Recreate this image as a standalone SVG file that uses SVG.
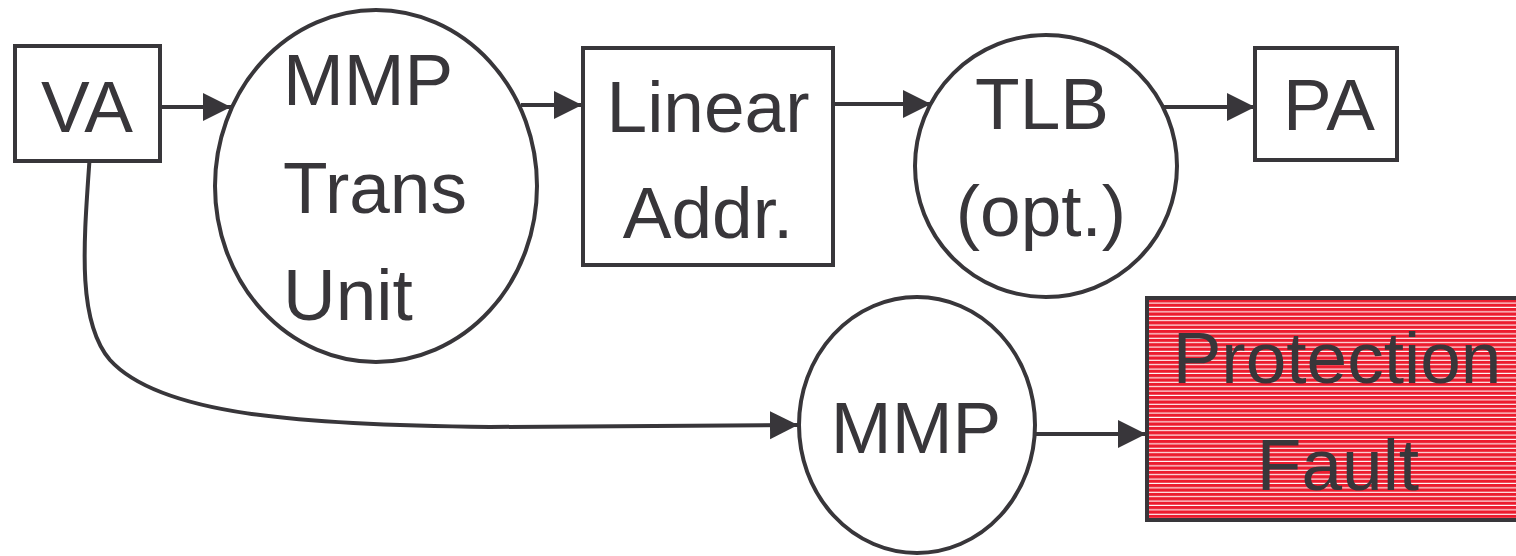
<svg xmlns="http://www.w3.org/2000/svg" width="1516" height="556" viewBox="0 0 1516 556">
  <style>
    .shape { fill: #ffffff; stroke: #38363a; stroke-width: 4; }
    .label { font-family: "Liberation Sans", Arial, sans-serif; font-size: 73px; fill: #38363a; }
    .mid { text-anchor: middle; }
    .edge { fill: none; stroke: #38363a; stroke-width: 4; }
  </style>
  <defs>
    <marker id="arrow" markerUnits="userSpaceOnUse" markerWidth="30" markerHeight="30" viewBox="0 0 30 30" refX="28" refY="15" orient="auto">
      <path d="M0,1 L28,15 L0,29 Z" fill="#38363a"/>
    </marker>
    <pattern id="stripes" patternUnits="userSpaceOnUse" width="8" height="4.4">
      <rect width="8" height="4.4" fill="#ec1c2e"/>
      <rect y="3.3" width="8" height="1.1" fill="#ffffff"/>
    </pattern>
  </defs>

  <g id="connectors">
    <line class="edge" x1="161" y1="107" x2="231" y2="107" marker-end="url(#arrow)"/>
    <line class="edge" x1="521" y1="105" x2="582" y2="105" marker-end="url(#arrow)"/>
    <line class="edge" x1="835" y1="104" x2="931" y2="104" marker-end="url(#arrow)"/>
    <line class="edge" x1="1161" y1="107" x2="1255" y2="107" marker-end="url(#arrow)"/>
    <line class="edge" x1="1035" y1="434" x2="1146" y2="434" marker-end="url(#arrow)"/>
    <path class="edge" d="M90,153 C84,240 76,320 110,360 C160,415 300,425 490,427 L798,425" marker-end="url(#arrow)"/>
  </g>

  <g id="node-va">
    <rect class="shape" x="15" y="46" width="145" height="115"/>
    <text class="label mid" x="87" y="132">VA</text>
  </g>

  <g id="node-mmp-trans">
    <ellipse class="shape" cx="376" cy="186" rx="161" ry="176"/>
    <text class="label" x="283" y="105">MMP</text>
    <text class="label" x="283" y="213">Trans</text>
    <text class="label" x="283" y="320">Unit</text>
  </g>

  <g id="node-linear">
    <rect class="shape" x="583" y="48" width="250" height="217"/>
    <text class="label mid" x="708" y="132">Linear</text>
    <text class="label mid" x="708" y="238">Addr.</text>
  </g>

  <g id="node-tlb">
    <ellipse class="shape" cx="1046" cy="166" rx="131" ry="131"/>
    <text class="label mid" x="1042" y="129">TLB</text>
    <text class="label mid" x="1041" y="236">(opt.)</text>
  </g>

  <g id="node-pa">
    <rect class="shape" x="1255" y="48" width="142" height="112"/>
    <text class="label mid" x="1329" y="130">PA</text>
  </g>

  <g id="node-mmp">
    <ellipse class="shape" cx="917" cy="425" rx="118" ry="128"/>
    <text class="label mid" x="916" y="453">MMP</text>
  </g>

  <g id="node-fault">
    <rect x="1147" y="298" width="380" height="222" fill="url(#stripes)" stroke="#38363a" stroke-width="4"/>
    <text class="label mid" x="1337" y="383">Protection</text>
    <text class="label mid" x="1338" y="490">Fault</text>
  </g>
</svg>
